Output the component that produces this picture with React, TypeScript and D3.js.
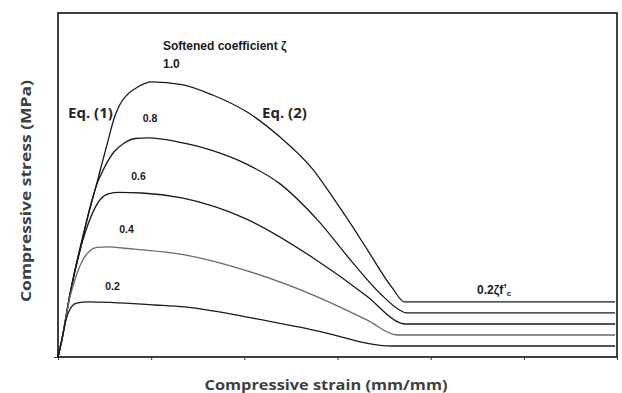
import React, { useEffect, useRef } from 'react';
import * as d3 from 'd3';

// strain (relative units) / stress (fraction of f'c)
const curve10 = [[0, 0], [0.04, 0.06], [0.13, 0.23], [0.26, 0.43], [0.4, 0.61], [0.54, 0.79], [0.6, 0.865], [0.66, 0.915], [0.74, 0.952], [0.86, 0.982], [1.0, 1.0], [1.33, 0.99], [1.66, 0.952], [2.03, 0.89], [2.38, 0.8], [2.74, 0.68], [2.97, 0.57], [3.13, 0.49], [3.32, 0.39], [3.59, 0.25], [3.72, 0.2], [5.98, 0.2]];
const curve08 = [[0, 0], [0.04, 0.06], [0.13, 0.23], [0.26, 0.42], [0.34, 0.54], [0.42, 0.63], [0.5, 0.69], [0.6, 0.745], [0.7, 0.775], [0.83, 0.794], [0.97, 0.796], [1.31, 0.78], [1.66, 0.75], [2.03, 0.7], [2.38, 0.63], [2.78, 0.5], [3.17, 0.34], [3.46, 0.23], [3.67, 0.17], [3.74, 0.16], [5.98, 0.16]];
const curve06 = [[0, 0], [0.04, 0.06], [0.13, 0.23], [0.22, 0.37], [0.3, 0.46], [0.38, 0.53], [0.46, 0.575], [0.55, 0.594], [0.65, 0.598], [0.9, 0.596], [1.33, 0.578], [2.03, 0.5], [2.74, 0.36], [3.32, 0.22], [3.67, 0.124], [3.72, 0.12], [5.98, 0.12]];
const curve04 = [[0, 0], [0.04, 0.06], [0.13, 0.22], [0.2, 0.3], [0.27, 0.355], [0.34, 0.385], [0.42, 0.398], [0.55, 0.4], [0.69, 0.396], [1.36, 0.371], [2.03, 0.313], [2.74, 0.225], [3.32, 0.134], [3.64, 0.08], [5.98, 0.08]];
const curve02 = [[0, 0], [0.04, 0.06], [0.09, 0.14], [0.14, 0.18], [0.2, 0.196], [0.32, 0.2], [1.04, 0.189], [1.36, 0.182], [2.03, 0.145], [2.74, 0.098], [3.59, 0.04], [5.98, 0.04]];

const curves = [
  { zeta: '1.0', points: curve10, color: '#1a1a1a' },
  { zeta: '0.8', points: curve08, color: '#1a1a1a' },
  { zeta: '0.6', points: curve06, color: '#1a1a1a' },
  { zeta: '0.4', points: curve04, color: '#6a6a6a' },
  { zeta: '0.2', points: curve02, color: '#1a1a1a' },
];

// label anchors in data units
const zetaLabels = [
  { text: '0.8', x: 0.987, y: 0.854 },
  { text: '0.6', x: 0.864, y: 0.643 },
  { text: '0.4', x: 0.735, y: 0.451 },
  { text: '0.2', x: 0.585, y: 0.243 },
];

const xTicks = [0, 1, 2, 3, 4, 5, 6];

const App = () => {
  const svgRef = useRef(null);

  useEffect(() => {
    const svg = d3.select(svgRef.current);
    svg.selectAll('*').remove();

    const x = d3.scaleLinear().domain([0, 6]).range([58, 617]);
    const y = d3.scaleLinear().domain([0, 1.25]).range([357, 13]);

    const line = d3.line()
      .x(d => x(d[0]))
      .y(d => y(d[1]))
      .curve(d3.curveMonotoneX);

    // кривые
    svg.selectAll('.curve')
      .data(curves)
      .enter().append('path')
      .attr('class', 'curve')
      .attr('d', d => line(d.points))
      .attr('fill', 'none')
      .attr('stroke', d => d.color)
      .attr('stroke-width', 1.3);

    // рамка
    svg.append('rect')
      .attr('x', x(0))
      .attr('y', y(1.25))
      .attr('width', x(6) - x(0))
      .attr('height', y(0) - y(1.25))
      .attr('fill', 'none')
      .attr('stroke', '#111')
      .attr('stroke-width', 1.6);

    const xAxis = svg.append('g')
      .attr('transform', `translate(0,${y(0)})`)
      .call(d3.axisBottom(x).tickValues(xTicks).tickSize(3).tickFormat(() => ''));
    xAxis.select('.domain').remove();
    xAxis.selectAll('line').attr('stroke', '#333');

    const yAxis = svg.append('g')
      .attr('transform', `translate(${x(0)},0)`)
      .call(d3.axisLeft(y).tickValues([0]).tickSize(4).tickFormat(() => ''));
    yAxis.select('.domain').remove();
    yAxis.selectAll('line').attr('stroke', '#333');

    const arial = '"Liberation Sans", Arial, sans-serif';
    const calibri = '"Open Sans", sans-serif';

    svg.append('text')
      .attr('x', 163)
      .attr('y', 50)
      .attr('font-family', arial)
      .attr('font-weight', 'bold')
      .attr('font-size', 12)
      .attr('fill', '#1a1a1a')
      .text('Softened coefficient ζ');

    svg.append('text')
      .attr('x', 163)
      .attr('y', 68)
      .attr('font-family', arial)
      .attr('font-weight', 'bold')
      .attr('font-size', 12)
      .attr('fill', '#1a1a1a')
      .text('1.0');

    svg.selectAll('.zeta-label')
      .data(zetaLabels)
      .enter().append('text')
      .attr('class', 'zeta-label')
      .attr('x', d => x(d.x))
      .attr('y', d => y(d.y))
      .attr('text-anchor', 'middle')
      .attr('font-family', arial)
      .attr('font-weight', 'bold')
      .attr('font-size', 10.5)
      .attr('fill', '#1a1a1a')
      .text(d => d.text);

    svg.append('text')
      .attr('x', 68)
      .attr('y', 118)
      .attr('font-family', calibri)
      .attr('font-weight', 'bold')
      .attr('font-size', 15)
      .attr('fill', '#262626')
      .text('Eq. (1)');

    svg.append('text')
      .attr('x', 262)
      .attr('y', 118)
      .attr('font-family', calibri)
      .attr('font-weight', 'bold')
      .attr('font-size', 15)
      .attr('fill', '#262626')
      .text('Eq. (2)');

    // 0.2ζf'c
    const fc = svg.append('text')
      .attr('x', 477)
      .attr('y', 294)
      .attr('font-family', arial)
      .attr('font-weight', 'bold')
      .attr('font-size', 12)
      .attr('fill', '#1a1a1a');
    fc.append('tspan').text('0.2ζf');
    fc.append('tspan').attr('dy', -1).text('\u2019');
    fc.append('tspan').attr('dy', 3).attr('font-size', 8).text('c');

    svg.append('text')
      .attr('x', 326)
      .attr('y', 390)
      .attr('text-anchor', 'middle')
      .attr('font-family', calibri)
      .attr('font-weight', 'bold')
      .attr('font-size', 15)
      .attr('textLength', 243)
      .attr('lengthAdjust', 'spacingAndGlyphs')
      .attr('fill', '#404040')
      .text('Compressive strain (mm/mm)');

    svg.append('text')
      .attr('transform', 'translate(31,191) rotate(-90)')
      .attr('text-anchor', 'middle')
      .attr('font-family', calibri)
      .attr('font-weight', 'bold')
      .attr('font-size', 15)
      .attr('textLength', 222)
      .attr('lengthAdjust', 'spacingAndGlyphs')
      .attr('fill', '#404040')
      .text('Compressive stress (MPa)');
  }, []);

  return (
    <svg
      ref={svgRef}
      width={622}
      height={393}
      style={{ position: 'absolute', left: 0, top: 0, background: '#fff' }}
    />
  );
};

export default App;
